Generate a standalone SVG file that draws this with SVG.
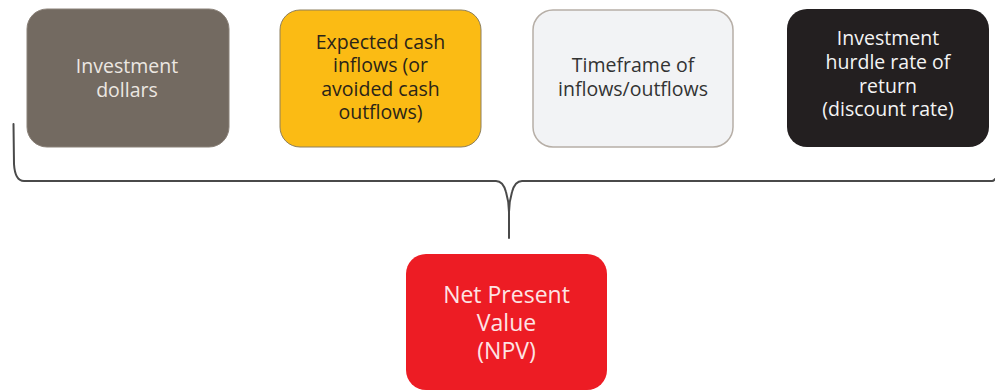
<svg xmlns="http://www.w3.org/2000/svg" width="995" height="392" viewBox="0 0 995 392">
  <style>
    .lbl { font-family: "Open Sans", "Noto Sans", "DejaVu Sans", sans-serif; font-size: 19.5px; text-anchor: middle; }
    .big { font-size: 23px; }
    .brace { fill: none; stroke: #4a4a4a; stroke-width: 2; stroke-linecap: round; stroke-linejoin: round; }
  </style>
  <rect width="995" height="392" fill="#ffffff"/>

  <g id="investment-dollars">
    <rect x="27" y="9" width="202" height="138" rx="20" fill="#736a61" stroke="#8a8178" stroke-width="1"/>
    <text class="lbl" fill="#ece7e1"><tspan x="127" y="73">Investment</tspan><tspan x="127" y="97">dollars</tspan></text>
  </g>

  <g id="expected-cash-inflows">
    <rect x="280" y="10" width="201" height="137" rx="20" fill="#fbbb14" stroke="#8d7f5c" stroke-width="1"/>
    <text class="lbl" fill="#2a2418"><tspan x="380.5" y="49">Expected cash</tspan><tspan x="380.5" y="72">inflows (or</tspan><tspan x="380.5" y="95.5">avoided cash</tspan><tspan x="380.5" y="119">outflows)</tspan></text>
  </g>

  <g id="timeframe">
    <rect x="533" y="10" width="200" height="137" rx="20" fill="#f2f3f5" stroke="#b6aea6" stroke-width="1.5"/>
    <text class="lbl" fill="#333333"><tspan x="633" y="72">Timeframe of</tspan><tspan x="633" y="95.5">inflows/outflows</tspan></text>
  </g>

  <g id="hurdle-rate">
    <rect x="787" y="9" width="202" height="138" rx="20" fill="#231f20"/>
    <text class="lbl" fill="#f4f4f4"><tspan x="888" y="45">Investment</tspan><tspan x="888" y="69">hurdle rate of</tspan><tspan x="888" y="92.5">return</tspan><tspan x="888" y="116">(discount rate)</tspan></text>
  </g>

  <g id="connectors">
    <path class="brace" d="M13.5 124 L14 164 Q15 181 24 181 L496 181 Q503 181 506 192 Q509 202 509 212 L509 238 M509 212 Q509 202 512 192 Q515 181 522 181 L992 181 Q994 181 995 179"/>
  </g>

  <g id="npv">
    <rect x="406" y="254" width="201" height="136" rx="20" fill="#ed1c24"/>
    <text class="lbl big" fill="#fde4e4"><tspan x="506.5" y="303">Net Present</tspan><tspan x="506.5" y="331">Value</tspan><tspan x="506.5" y="359">(NPV)</tspan></text>
  </g>
</svg>
